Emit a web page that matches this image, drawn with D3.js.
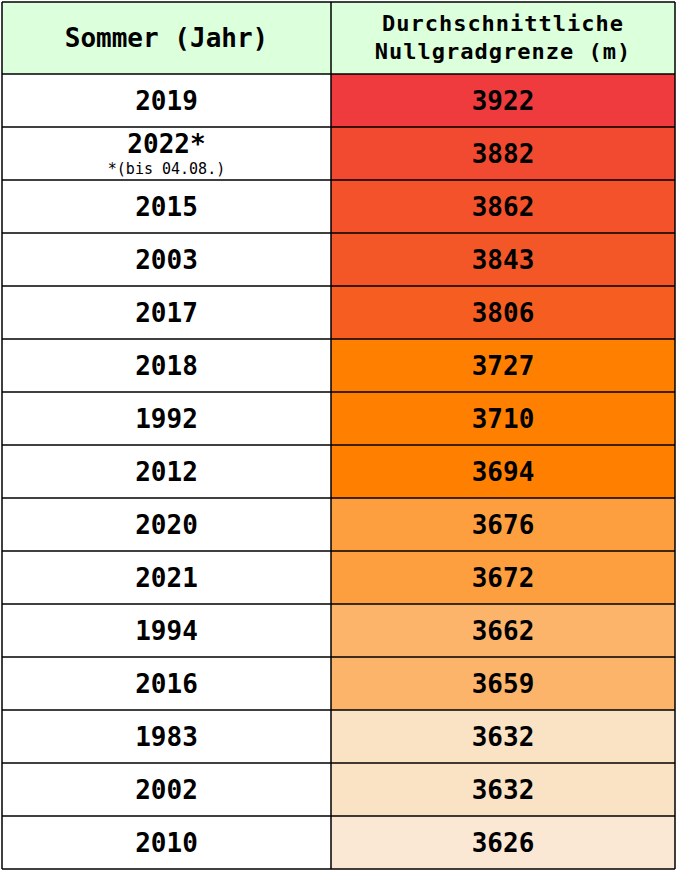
<!DOCTYPE html><html><head><meta charset="utf-8"><script src="https://cdn.jsdelivr.net/npm/d3@7"></script>
<style>body{margin:0;background:#fff}</style></head><body><svg id="c" width="677" height="871"></svg><script>
const years=["2019","2022*","2015","2003","2017","2018","1992","2012","2020","2021","1994","2016","1983","2002","2010"];
const values=[3922,3882,3862,3843,3806,3727,3710,3694,3676,3672,3662,3659,3632,3632,3626];
const colors=["#ef3b3e","#f14a31","#f3522b","#f35727","#f65e21","#ff7f00","#ff7f00","#ff7f00","#fd9f3f","#fd9f3f","#fcb46b","#fcb46b","#fae2c5","#fae2c5","#fbe8d4"];
const headers=[["Sommer (Jahr)"],["Durchschnittliche","Nullgradgrenze (m)"]];
const note="*(bis 04.08.)";
const svg=d3.select("#c"),F="'DejaVu Sans Mono',monospace";
const x0=2,xm=331,x1=675,y0=2,hH=72;
const y=d3.scaleBand().domain(d3.range(years.length)).range([y0+hH,869]);
const g=svg.append("g");
g.append("rect").attr("x",x0).attr("y",y0).attr("width",x1-x0).attr("height",hH).attr("fill","#dcffdc");
g.append("text").attr("x",(x0+xm)/2).attr("y",y0+hH/2+9).attr("text-anchor","middle").attr("font-family",F).attr("font-weight","bold").attr("font-size",26).text(headers[0][0]);
headers[1].forEach((t,i)=>g.append("text").attr("x",(xm+x1)/2).attr("y",y0+29+i*28).attr("text-anchor","middle").attr("font-family",F).attr("font-weight","bold").attr("font-size",22).attr("letter-spacing",1).text(t));
const rows=g.selectAll(".r").data(years).join("g");
rows.append("rect").attr("x",xm).attr("y",(d,i)=>y(i)).attr("width",x1-xm).attr("height",y.bandwidth()).attr("fill",(d,i)=>colors[i]);
rows.append("text").attr("x",(x0+xm)/2).attr("y",(d,i)=>y(i)+y.bandwidth()/2+(d.includes("*")?-1:9)).attr("text-anchor","middle").attr("font-family",F).attr("font-weight","bold").attr("font-size",26).text(d=>d);
rows.filter(d=>d.includes("*")).append("text").attr("x",(x0+xm)/2).attr("y",(d)=>y(years.indexOf(d))+y.bandwidth()/2+20).attr("text-anchor","middle").attr("font-family",F).attr("font-size",15).text(note);
rows.append("text").attr("x",(xm+x1)/2).attr("y",(d,i)=>y(i)+y.bandwidth()/2+9).attr("text-anchor","middle").attr("font-family",F).attr("font-weight","bold").attr("font-size",26).text((d,i)=>values[i]);
// grid lines
const ls=g.append("g").attr("stroke","#000").attr("stroke-width",1.5);
[y0,y0+hH,...years.map((d,i)=>y(i)+y.bandwidth())].forEach(v=>ls.append("line").attr("x1",x0).attr("x2",x1).attr("y1",v).attr("y2",v));
[x0,xm,x1].forEach(v=>ls.append("line").attr("x1",v).attr("x2",v).attr("y1",y0).attr("y2",869));
</script></body></html>
